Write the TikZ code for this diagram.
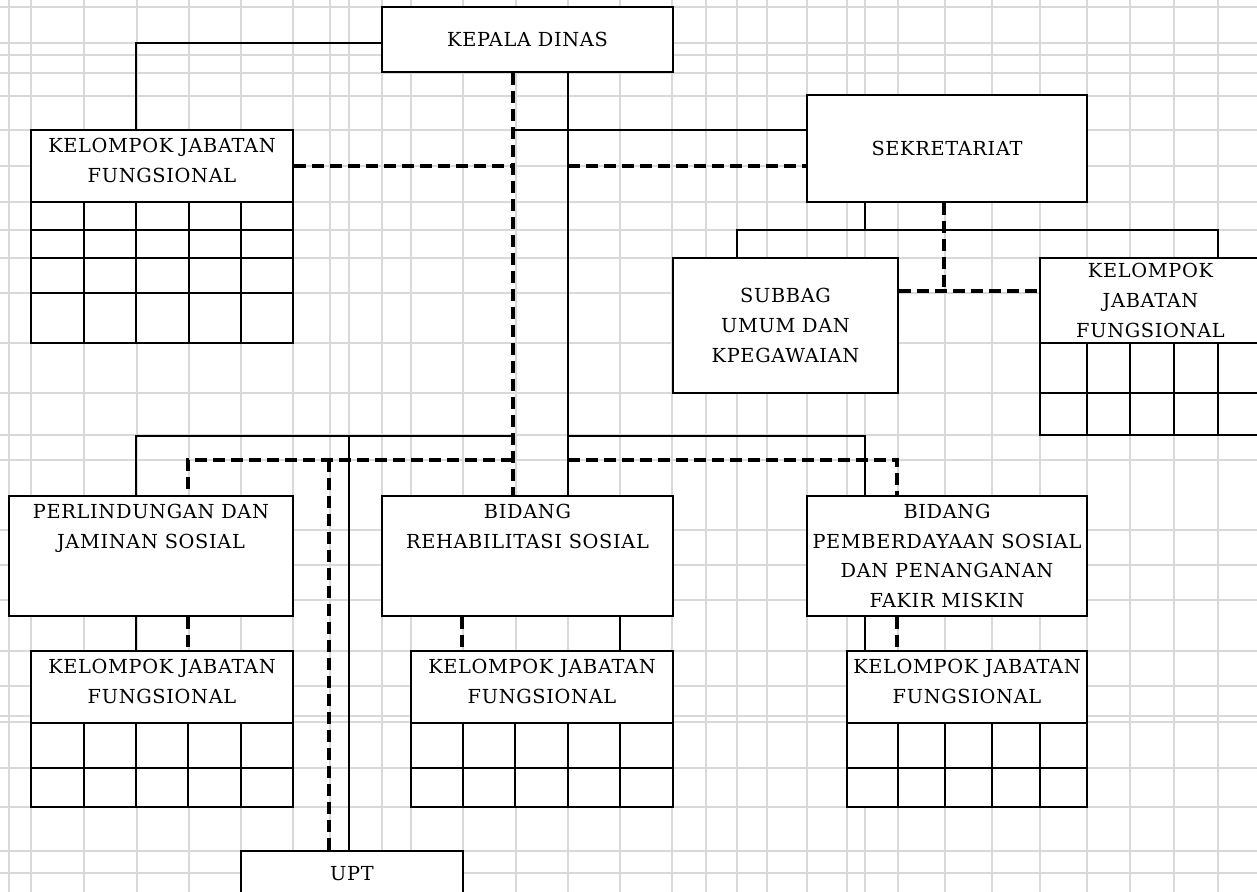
\documentclass[tikz,border=0pt]{standalone}
\usepackage{fontspec}
\setmainfont[LetterSpace=3.5]{DejaVu Serif}

\begin{document}
\begin{tikzpicture}[x=0.02cm,y=-0.02cm,
  box/.style={draw,fill=white,line width=0.9pt,align=center,inner sep=0pt,
    font=\fontsize{11}{17}\selectfont},
  kjf/.style={box,minimum height=1.44cm,text depth=0.22cm},
  garis/.style={line width=0.9pt},
  putus/.style={line width=1.9pt,dash pattern=on 0.24cm off 0.12cm},
  kisi/.style={draw=gray!30,line width=0.9pt}]

\useasboundingbox (0,0) rectangle (1257,892);
\clip (0,0) rectangle (1257,892);
\fill[white] (0,0) rectangle (1257,892);

% kisi lembar kerja
\foreach \gx in {9,31,84,137,189,241,293,330,349,382,411,463,516,568,620,672,706,737,767,807,847,865,898,945,992,1040,1087,1130,1174,1218}
  \draw[kisi] (\gx,0) -- (\gx,892);
\foreach \gy in {7,43,55,73,96,130,166,202,230,258,293,343,393,435,460,530,565,600,651,686,716,722,768,807,851,873}
  \draw[kisi] (0,\gy) -- (1257,\gy);

% tabel
\draw[garis,fill=white] (31,202) rectangle (293,343);
\foreach \x in {84,136,189,241} \draw[garis] (\x,202) -- (\x,343);
\foreach \y in {230,258,293} \draw[garis] (31,\y) -- (293,\y);

\draw[garis,fill=white] (1040,343) rectangle (1261,435);
\foreach \x in {1087,1130,1174,1218} \draw[garis] (\x,343) -- (\x,435);
\draw[garis] (1040,393) -- (1261,393);

\foreach \a/\b/\c/\d/\e/\f in {31/84/136/188/241/293,411/463/515/568/620/673,847/898/945/992/1040/1087}{
  \draw[garis,fill=white] (\a,723) rectangle (\f,807);
  \foreach \x in {\b,\c,\d,\e} \draw[garis] (\x,723) -- (\x,807);
  \draw[garis] (\a,768) -- (\f,768);
}

\node[box,minimum width=5.82cm,minimum height=1.3cm] (kepala) at (527.5,39.5) {KEPALA DINAS};
\node[box,minimum width=5.6cm,minimum height=2.14cm] (sekre) at (947,148.5) {SEKRETARIAT};
\node[box,minimum width=4.5cm,minimum height=2.7cm] (subbag) at (785.5,325.5) {SUBBAG\\UMUM DAN\\KPEGAWAIAN};
\node[kjf,minimum width=5.24cm] (kjfA) at (162,166) {KELOMPOK JABATAN\\FUNGSIONAL};
\node[box,minimum width=4.42cm,minimum height=1.7cm] (kjfB) at (1150.5,300.5) {KELOMPOK\\JABATAN\\FUNGSIONAL};
\node[box,minimum width=5.68cm,minimum height=2.4cm] (perlin) at (151,556) {PERLINDUNGAN DAN\\JAMINAN SOSIAL\\~\\~};
\node[box,minimum width=5.82cm,minimum height=2.4cm] (rehab) at (527.5,556) {BIDANG\\REHABILITASI SOSIAL\\~\\~};
\node[box,minimum width=5.6cm,minimum height=2.4cm] (berdaya) at (947,556) {BIDANG\\PEMBERDAYAAN SOSIAL\\DAN PENANGANAN\\FAKIR MISKIN};
\node[kjf,minimum width=5.24cm] (kjfC) at (162,687) {KELOMPOK JABATAN\\FUNGSIONAL};
\node[kjf,minimum width=5.24cm] (kjfD) at (542,687) {KELOMPOK JABATAN\\FUNGSIONAL};
\node[kjf,minimum width=4.8cm] (kjfE) at (967,687) {KELOMPOK JABATAN\\FUNGSIONAL};
\node[box,minimum width=4.44cm,minimum height=0.92cm] (upt) at (352,874) {UPT};

% titik bantu garis
\coordinate (xA) at (136,0);
\coordinate (xAd) at (188,0);
\coordinate (xUd) at (329,0);
\coordinate (xU) at (349,0);
\coordinate (xRd) at (462,0);
\coordinate (xD) at (513,0);
\coordinate (xS) at (568,0);
\coordinate (xR) at (620,0);
\coordinate (xSub) at (737,0);
\coordinate (xP) at (865,0);
\coordinate (xPd) at (897,0);
\coordinate (xSd) at (944,0);
\coordinate (xKb) at (1218,0);
\coordinate (y1) at (0,43);
\coordinate (y2) at (0,130);
\coordinate (y3) at (0,166);
\coordinate (y4) at (0,230);
\coordinate (y5) at (0,291);
\coordinate (y6) at (0,436);
\coordinate (y7) at (0,460);

% garis komando
\draw[garis] (kepala.west |- y1) -| (kjfA.north -| xA);
\draw[garis] (kepala.south -| xS) -- (rehab.north -| xS);
\draw[garis] (sekre.west |- y2) -- (xD |- y2);
\draw[garis] (xD |- y6) -| (perlin.north -| xA);
\draw[garis] (xU |- y6) -- (upt.north -| xU);
\draw[garis] (xS |- y6) -| (berdaya.north -| xP);
\draw[garis] (sekre.south -| xP) -- (xP |- y4);
\draw[garis] (subbag.north -| xSub) -- (xSub |- y4) -- (xKb |- y4) -- (kjfB.north -| xKb);
\draw[garis] (perlin.south -| xA) -- (kjfC.north -| xA);
\draw[garis] (rehab.south -| xR) -- (kjfD.north -| xR);
\draw[garis] (berdaya.south -| xP) -- (kjfE.north -| xP);

% garis koordinasi
\draw[putus] (kepala.south -| xD) -- (rehab.north -| xD);
\draw[putus] (kjfA.east |- y3) -- (xD |- y3);
\draw[putus] (xS |- y3) -- (sekre.west |- y3);
\draw[putus] (xD |- y7) -| (perlin.north -| xAd);
\draw[putus] (xUd |- y7) -- (upt.north -| xUd);
\draw[putus] (xS |- y7) -| (berdaya.north -| xPd);
\draw[putus] (sekre.south -| xSd) -- (xSd |- y5);
\draw[putus] (subbag.east |- y5) -- (kjfB.west |- y5);
\draw[putus] (perlin.south -| xAd) -- (kjfC.north -| xAd);
\draw[putus] (rehab.south -| xRd) -- (kjfD.north -| xRd);
\draw[putus] (berdaya.south -| xPd) -- (kjfE.north -| xPd);
\end{tikzpicture}
\end{document}
